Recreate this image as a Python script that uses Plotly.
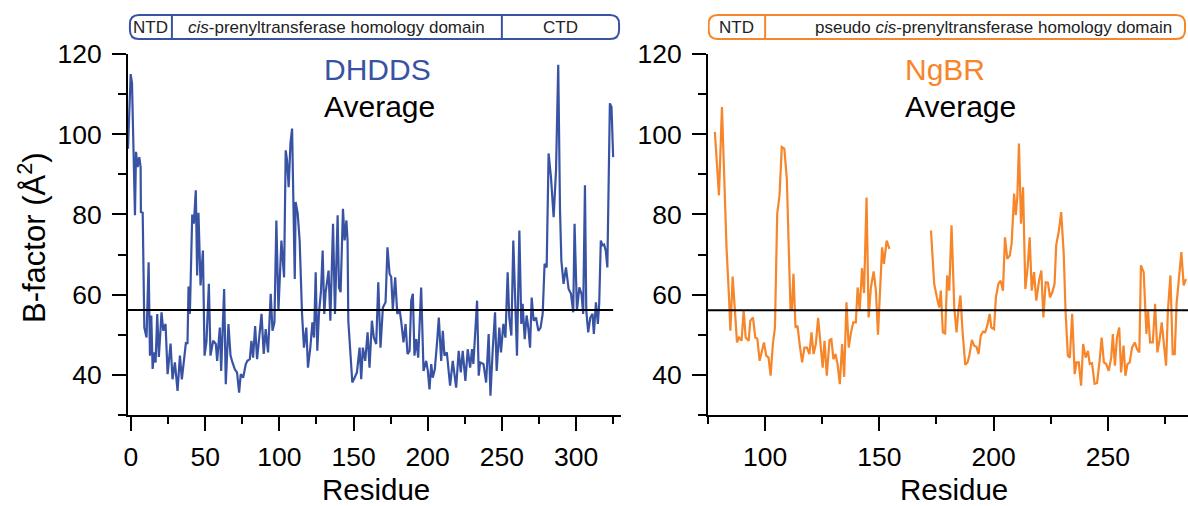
import plotly.graph_objects as go

W, H = 1188, 506
BLUE = "#3953A4"
ORANGE = "#F68629"
FONT = "Liberation Sans, Arial, Helvetica, sans-serif"

# ---------------- data ----------------
dhdds_res = [-2, -0.2, 0.7, 2.7, 3.4, 4.5, 5.6, 6.5, 6.7, 7.9, 9, 10.5, 11.9, 12.8, 13.7, 14.6, 15.5, 16.6,
             17.7, 18.8, 20.6, 21.8, 23.3, 24.7, 26.7, 28, 29.6, 31.4, 33, 34.3, 37, 38.1, 38.8, 39.7, 41.3,
             42.4, 43.7, 44.6, 45.5, 46.9, 48.5, 49.6, 50.9, 52.5, 53.6, 55.4, 57.2, 58.1, 59.9, 60.8, 62.8,
             63.9, 65.7, 67.1, 68.4, 70, 71.5, 72.9, 74, 75.6, 77.4, 78.5, 80.1, 81.2, 82.3, 83.7, 85, 86.4,
             88, 89.5, 90.8, 92.4, 94.2, 95.4, 96.7, 98, 99.4, 101.4, 102.5, 103.2, 104.3, 105.2, 106.3,
             107.5, 108.6, 109.7, 110.4, 111, 112.4, 113.7, 115.3, 116.6, 118.2, 119.3, 120.9, 122.3, 123.4,
             124.5, 125.6, 126.7, 128.1, 129.2, 130.3, 131.2, 133.2, 134.4, 136.2, 137.5, 139.3, 140.2,
             141.3, 142.9, 144, 145.2, 146, 146.5, 149.2, 150.7, 152.3, 154.1, 155.2, 156.3, 157.9, 159.5,
             160.8, 162.4, 163.7, 165.3, 166.7, 168.2, 169.8, 171.6, 172.9, 174.3, 175.4, 176.5, 178.1,
             179.5, 181, 182.1, 183.7, 185.1, 186.4, 187.8, 188.9, 190, 191.1, 192.3, 193.6, 195.6, 197.2,
             199, 200.1, 201.2, 202.4, 203.4, 204.8, 206.4, 207.5, 209.1, 210.2, 211.3, 212.9, 215.1, 216.9,
             219.2, 220.9, 222.3, 223.6, 225.4, 227, 228.6, 229.9, 230.8, 232.2, 233.3, 234.4, 235.3, 237.6,
             239.4, 241.1, 242.3, 243.8, 245.4, 246.5, 248.3, 249.4, 251, 252.4, 253.9, 255, 256.4, 257.7,
             259.1, 260.2, 261.8, 263.1, 264, 265.4, 266.7, 267.8, 269, 270.1, 271.4, 273, 274.6, 276.1,
             277.5, 278.8, 280.2, 281.5, 283.1, 284.9, 286.5, 288, 289.2, 290.1, 291.6, 293.2, 295, 296.6,
             298.1, 299, 300.6, 302.2, 303.7, 304.8, 306, 306.9, 308.2, 309.6, 311.1, 312, 313.4, 314.7,
             315.6, 316.7, 317.8, 318.9, 320, 321.1, 322.8, 323.9, 325]
dhdds_b = [96.4, 115, 112.7, 79.8, 95.6, 91.8, 94.3, 91.8, 80.6, 80.4, 51.8, 49.3, 68.1, 44.8, 54.8, 41.5, 45.6,
           43.1, 55.2, 44.5, 55.6, 51, 52.7, 40.2, 47.8, 38.9, 43.1, 36, 44.8, 38.9, 47.9, 47.9, 62, 55.2, 80,
           77.7, 86, 64.8, 80.4, 62.3, 71, 44.8, 48.3, 62.7, 44.8, 48.5, 47.7, 43.5, 51.8, 41, 61.4, 37.7,
           52.7, 44.8, 43.1, 41.4, 40.6, 35.6, 40.2, 39.3, 42.7, 43.5, 43.9, 48.5, 44.3, 52.2, 43.9, 48.9,
           55.2, 45.2, 51.4, 45.6, 60.2, 51, 53.1, 78.5, 56, 73.5, 68.5, 64.3, 96, 93.5, 86.8, 97.7, 101.4,
           83.5, 63.9, 83.1, 80.2, 73.5, 55.2, 46.8, 51.8, 41.8, 46.8, 53.1, 49.3, 65.6, 46, 55.2, 61, 71,
           55.2, 60.6, 66, 53.5, 77.7, 55.2, 79.8, 61.8, 60.6, 81.4, 73.5, 78.5, 73.5, 53.5, 38.1, 39.3,
           40.6, 46.8, 38.9, 46.8, 43.5, 50.6, 41.8, 53.5, 49.3, 47.7, 63.1, 46.8, 56.8, 58.1, 71.8, 65.2,
           64.4, 56.4, 64.3, 55.2, 56.4, 53.5, 48.1, 52.7, 45.2, 46, 58.5, 60.2, 44.8, 48.9, 44.3, 61.8, 41,
           43.5, 41, 36.4, 42.7, 39.3, 41.4, 48.5, 54.3, 43.5, 51, 44.8, 45.6, 37.3, 43.5, 36.8, 46, 40.6,
           46, 38.5, 46.4, 41.8, 46.4, 42.7, 50.2, 58.5, 39.8, 43.1, 42.7, 38.1, 50.2, 34.8, 46, 55.6, 41,
           51.8, 45.6, 52.7, 49.3, 65.6, 54.3, 49.8, 73.5, 57.7, 44.8, 76, 52.7, 57.7, 48.9, 54.8, 51.8,
           46.8, 59.3, 53.5, 54.3, 51, 51.8, 55.2, 67.7, 66.8, 95.2, 89.3, 79.3, 91, 117.3, 81, 68.5, 62.7,
           66.8, 61.4, 60.2, 55.6, 77.7, 56, 61.8, 60.2, 55.2, 87.3, 56, 50.6, 54.3, 55.2, 50.2, 58.1, 52.7,
           57.7, 73.5, 72.3, 72.5, 71, 66.8, 107.7, 106.8, 94.3]

ngbr_res = [78, 79.8, 81.1, 81.9, 83.1, 84.2, 84.8, 85.8, 86.7, 87.7, 88.6, 89.7, 90.6, 91.5, 92.8, 93.5, 94.7,
            95.7, 96.6, 97.6, 99.5, 100.5, 101.5, 102.4, 103.4, 104.3, 105.3, 106.3, 107.3, 108.4, 109.5,
            110.4, 111.1, 111.7, 112.4, 113.3, 114.2, 115.1, 116.2, 117.2, 118.3, 119.4, 120.3, 121.2, 122.2,
            123.2, 124.1, 125.2, 126, 127, 128.2, 129, 129.9, 130.8, 131.7, 132.7, 133.7, 134.6, 135.6, 136.6,
            137.6, 138.6, 139.7, 140.5, 141.4, 142.4, 143.3, 144.4, 145.3, 146.3, 147.5, 148.5, 149.4, 150.3,
            151.2, 152, 153.2, 154.4, None,
            172.6, 174, 175.2, 176.2, 176.9, 177.8, 178.8, 179.7, 180.6, 181.6, 182.8, 183.8, 184.6, 185.5,
            186.4, 187.6, 188.6, 189.4, 190.5, 191.5, 192.5, 193.4, 194.4, 195.4, 196.3, 197.2, 198.3, 199,
            200.2, 201, 202.1, 203.1, 204.1, 205, 206, 207.1, 207.9, 209, 209.7, 210.4, 211.1, 212, 212.9,
            213.9, 214.9, 215.8, 216.7, 217.7, 218.7, 219.9, 220.9, 221.8, 222.8, 223.8, 224.7, 225.7, 226.7,
            227.4, 228.6, 229.6, 230.7, 231.5, 232.5, 233.4, 234.4, 235.5, 236.3, 237.3, 238.3, 239.2, 240.3,
            241.3, 242.1, 243.1, 244.2, 245.3, 246.4, 247.3, 248.3, 249.3, 250.4, 251.5, 252.2, 253.1, 254,
            255, 255.8, 256.9, 257.7, 258.6, 259.6, 260.6, 261.8, 262.8, 263.8, 264.5, 265.7, 266.5, 266.9,
            267.6, 268.5, 269.7, 270.7, 271.7, 272.6, 273.6, 274.5, 275.5, 276.3, 277.4, 278.4, 279.3, 280.1,
            281.3, 282.2, 283.2, 284.2]
ngbr_b = [100.6, 84.75, 106.8, 92.7, 71.8, 59.3, 51, 64.5, 55.2, 48.1, 49.3, 48.5, 56, 49.3, 48.5, 53.5, 54.3,
          49.3, 49, 43.5, 48.1, 44.8, 44.3, 39.8, 47.7, 51.8, 80.2, 84.75, 96.8, 96.4, 88.9, 71.8, 56.4, 56.4,
          65.2, 51.8, 52.2, 47.7, 43.1, 46.8, 46.8, 45.2, 50.6, 45.2, 47.7, 54.2, 47.7, 41.8, 48.5, 39.8, 48.7,
          48.9, 43.9, 45.2, 42.7, 37.7, 47.7, 39.5, 58.1, 46.8, 50.6, 53.1, 53.1, 61.8, 56, 66.6, 60.4, 84.2,
          54.3, 61.8, 65.8, 61, 50, 62.7, 71.8, 67.7, 73.5, 71.4, None,
          76, 62.7, 59.3, 56.8, 61, 50.6, 50.3, 64.8, 61, 77.3, 56.8, 50.6, 56, 59.8, 51, 42.5, 43.1, 44.8,
          48.7, 47.3, 47, 45.2, 49.8, 50.8, 50.6, 52.2, 55.2, 51.8, 51.4, 59.3, 62.7, 63.5, 61, 74.3, 68.9,
          69.8, 72.7, 85.2, 79.8, 84.3, 97.7, 77.7, 86.8, 61.4, 66.8, 74.3, 61, 65.6, 58.5, 63.5, 66, 54.3,
          63.1, 63, 59.3, 60.6, 62.7, 72.3, 76, 80.6, 70.2, 56, 44.8, 44.3, 55.2, 40.2, 43.1, 43.1, 37.3,
          47.7, 44.3, 46, 42.7, 42.9, 37.8, 38, 43.5, 49.3, 43.1, 42.7, 41, 44.3, 50.2, 42.3, 49.3, 51.8,
          40.6, 47.3, 39.8, 42.7, 43.1, 46.8, 48.1, 46.4, 45.6, 67.3, 65.6, 56, 50.2, 56, 48.1, 48.1, 57.7,
          45.6, 48.5, 53.1, 47.7, 42.3, 56, 64.8, 45.2, 45.2, 57.7, 64.3, 70.6, 62.3, 63.9]

DHDDS_AVG = 56.2
NGBR_AVG = 56.1

y_ticks = [40, 60, 80, 100, 120]
dhdds_ticks = [0, 50, 100, 150, 200, 250, 300]
ngbr_ticks = [100, 150, 200, 250]

# domain architecture (residue boundaries)
dhdds_domains = [("NTD", -0.7, 27.6), ("<i>cis</i>-prenyltransferase homology domain", 27.6, 250), ("CTD", 250, 329)]
ngbr_domains = [("NTD", 75.3, 100), ("pseudo <i>cis</i>-prenyltransferase homology domain", 100, 300)]
NGBR_BAR_END = 283.8

# ---------------- layout geometry ----------------
X1_RANGE = [-2, 330.3]
X2_RANGE = [75, 285.1]
Y_RANGE = [30, 120]
X1_DOM = [128 / W, 621 / W]
X2_DOM = [708 / W, 1.0]
Y_DOM = [(H - 415) / H, (H - 54) / H]

fig = go.Figure()
fig.add_trace(go.Scatter(x=dhdds_res, y=dhdds_b, mode="lines", line=dict(color=BLUE, width=2.2),
                         xaxis="x", yaxis="y", showlegend=False))
fig.add_trace(go.Scatter(x=[X1_RANGE[0], max(dhdds_res)], y=[DHDDS_AVG, DHDDS_AVG], mode="lines",
                         line=dict(color="black", width=2), xaxis="x", yaxis="y", showlegend=False))
fig.add_trace(go.Scatter(x=ngbr_res, y=ngbr_b, mode="lines", line=dict(color=ORANGE, width=2.2),
                         connectgaps=False, xaxis="x2", yaxis="y2", showlegend=False))
fig.add_trace(go.Scatter(x=[X2_RANGE[0], X2_RANGE[1]], y=[NGBR_AVG, NGBR_AVG], mode="lines",
                         line=dict(color="black", width=2), xaxis="x2", yaxis="y2", showlegend=False))

tickfont = dict(family=FONT, size=26.5, color="black")
common_ax = dict(showline=True, linecolor="black", linewidth=2, ticks="outside", tickwidth=2,
                 tickcolor="black", ticklen=14, showgrid=False, zeroline=False, tickfont=tickfont)


def xax(dom, rng, anchor, ticks):
    return dict(domain=dom, range=rng, anchor=anchor, tickvals=ticks, ticklabelstandoff=3,
                minor=dict(dtick=25, tick0=0, ticks="outside", ticklen=7, tickwidth=2,
                           tickcolor="black", showgrid=False), **common_ax)


def yax(anchor):
    return dict(domain=Y_DOM, range=Y_RANGE, anchor=anchor, tickvals=y_ticks, ticklabelstandoff=5,
                minor=dict(dtick=10, tick0=0, ticks="outside", ticklen=8, tickwidth=2,
                           tickcolor="black", showgrid=False), **common_ax)


fig.update_layout(
    width=W, height=H, margin=dict(l=0, r=0, t=0, b=0, pad=0, autoexpand=False),
    paper_bgcolor="white", plot_bgcolor="white",
    xaxis=xax(X1_DOM, X1_RANGE, "y", dhdds_ticks),
    yaxis=yax("x"),
    xaxis2=xax(X2_DOM, X2_RANGE, "y2", ngbr_ticks),
    yaxis2=yax("x2"),
)

# ---------------- domain bars ----------------
BAR_TOP = (H - 15) / H
BAR_BOT = (H - 39) / H
BAR_MID = (H - 27) / H
R_PX = 9


def rounded_path(x0, x1, y0, y1, rx, ry):
    return (f"M {x0 + rx},{y0} L {x1 - rx},{y0} Q {x1},{y0} {x1},{y0 + ry} "
            f"L {x1},{y1 - ry} Q {x1},{y1} {x1 - rx},{y1} L {x0 + rx},{y1} "
            f"Q {x0},{y1} {x0},{y1 - ry} L {x0},{y0 + ry} Q {x0},{y0} {x0 + rx},{y0} Z")


def add_bar(domains, xref, color, rng, dom, end=None):
    ppu = (dom[1] - dom[0]) * W / (rng[1] - rng[0])
    rx = R_PX / ppu
    ry = R_PX / H
    x0 = domains[0][1]
    x1 = end if end is not None else domains[-1][2]
    fig.add_shape(type="path", xref=xref, yref="paper",
                  path=rounded_path(x0, x1, BAR_BOT, BAR_TOP, rx, ry),
                  line=dict(color=color, width=2), fillcolor="rgba(0,0,0,0)")
    for i, (name, a, b) in enumerate(domains):
        if i > 0:
            fig.add_shape(type="line", xref=xref, yref="paper", x0=a, x1=a, y0=BAR_BOT, y1=BAR_TOP,
                          line=dict(color=color, width=2))
        fig.add_annotation(x=(a + b) / 2, y=BAR_MID, xref=xref, yref="paper", text=name,
                           showarrow=False, xanchor="center", yanchor="middle",
                           font=dict(family=FONT, size=17, color="#222222"))


add_bar(dhdds_domains, "x", BLUE, X1_RANGE, X1_DOM)
add_bar(ngbr_domains, "x2", ORANGE, X2_RANGE, X2_DOM, end=NGBR_BAR_END)

# ---------------- labels ----------------
big = lambda c, s=30: dict(family=FONT, size=s, color=c)
fig.add_annotation(x=322 / W, y=(H - 70) / H, xref="paper", yref="paper", text="DHDDS", showarrow=False,
                   xanchor="left", yanchor="middle", font=big(BLUE))
fig.add_annotation(x=322 / W, y=(H - 106) / H, xref="paper", yref="paper", text="Average", showarrow=False,
                   xanchor="left", yanchor="middle", font=big("black"))
fig.add_annotation(x=903 / W, y=(H - 70) / H, xref="paper", yref="paper", text="NgBR", showarrow=False,
                   xanchor="left", yanchor="middle", font=big(ORANGE))
fig.add_annotation(x=903 / W, y=(H - 106) / H, xref="paper", yref="paper", text="Average", showarrow=False,
                   xanchor="left", yanchor="middle", font=big("black"))
fig.add_annotation(x=32 / W, y=(H - 238) / H, xref="paper", yref="paper", text="B-factor (Å<sup>2</sup>)",
                   showarrow=False, textangle=-90, xanchor="center", yanchor="middle", font=big("black", 31))
fig.add_annotation(x=376 / W, y=(H - 489) / H, xref="paper", yref="paper", text="Residue", showarrow=False,
                   xanchor="center", yanchor="middle", font=big("black", 29.5))
fig.add_annotation(x=954 / W, y=(H - 489) / H, xref="paper", yref="paper", text="Residue", showarrow=False,
                   xanchor="center", yanchor="middle", font=big("black", 29.5))

fig.write_html("out.html")
